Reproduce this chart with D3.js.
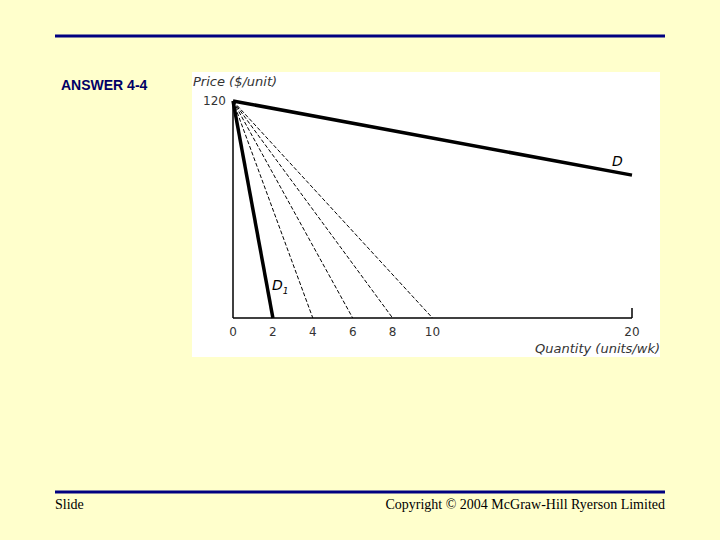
<!DOCTYPE html><html><head><script src="https://d3js.org/d3.v7.min.js"></script>
<style>body{margin:0;background:#FFFFCC}</style></head><body><script>
const demandLines=[{name:"D",q:20,p:79,thick:true},{name:"D1",q:2,p:0,thick:true}];
const dashedQ=[4,6,8,10];
const xTicks=[0,2,4,6,8,10,20];
const pMax=120;
const svg=d3.select("body").append("svg").attr("width",720).attr("height",540);
svg.append("rect").attr("width",720).attr("height",540).attr("fill","#FFFFCC");
svg.append("line").attr("x1",55).attr("x2",665).attr("y1",36).attr("y2",36).attr("stroke","#000080").attr("stroke-width",3);
svg.append("line").attr("x1",55).attr("x2",665).attr("y1",492).attr("y2",492).attr("stroke","#000080").attr("stroke-width",3);
svg.append("text").attr("x",61).attr("y",90).text("ANSWER 4-4").attr("font-family","Liberation Sans").attr("font-weight","bold").attr("font-size",14).attr("fill","#000066");
svg.append("text").attr("x",55).attr("y",509).text("Slide").attr("font-family","Liberation Serif").attr("font-size",14);
svg.append("text").attr("x",665).attr("y",509).attr("text-anchor","end").text("Copyright © 2004 McGraw-Hill Ryerson Limited").attr("font-family","Liberation Serif").attr("font-size",14);
svg.append("rect").attr("x",192).attr("y",72).attr("width",468).attr("height",285).attr("fill","#fff");
const x=d3.scaleLinear().domain([0,20]).range([233,632]);
const y=d3.scaleLinear().domain([0,120]).range([318,101]);
const g=svg.append("g");
const ff="DejaVu Sans";
g.append("line").attr("x1",x(0)).attr("x2",x(0)).attr("y1",y(0)).attr("y2",y(120)).attr("stroke","#000").attr("stroke-width",1.5);
g.append("line").attr("x1",x(0)).attr("x2",x(20)).attr("y1",y(0)).attr("y2",y(0)).attr("stroke","#000").attr("stroke-width",1.5);
g.append("line").attr("x1",x(20)).attr("x2",x(20)).attr("y1",y(0)).attr("y2",y(0)-10).attr("stroke","#000").attr("stroke-width",1.5);
xTicks.forEach(t=>g.append("text").attr("x",x(t)).attr("y",336).attr("text-anchor","middle").text(t).attr("font-family",ff).attr("font-size",12).attr("fill","#333"));
g.append("text").attr("x",226).attr("y",105).attr("text-anchor","end").text("120").attr("font-family",ff).attr("font-size",12).attr("fill","#333");
g.append("text").attr("x",193).attr("y",86).text("Price ($/unit)").attr("font-family",ff).attr("font-style","italic").attr("font-size",13).attr("fill","#333");
g.append("text").attr("x",660).attr("y",353).attr("text-anchor","end").text("Quantity (units/wk)").attr("font-family",ff).attr("font-style","italic").attr("font-size",13).attr("fill","#333");
dashedQ.forEach(q=>g.append("line").attr("x1",x(0)).attr("y1",y(pMax)).attr("x2",x(q)).attr("y2",y(0)).attr("stroke","#000").attr("stroke-width",1).attr("stroke-dasharray","4,2"));
demandLines.forEach(d=>g.append("line").attr("x1",x(0)).attr("y1",y(pMax)).attr("x2",x(d.q)).attr("y2",y(d.p)).attr("stroke","#000").attr("stroke-width",3.5));
g.append("text").attr("x",612).attr("y",166).text("D").attr("font-family",ff).attr("font-style","italic").attr("font-size",14);
const t=g.append("text").attr("x",272).attr("y",290).attr("font-family",ff).attr("font-style","italic").attr("font-size",14).text("D");
t.append("tspan").attr("font-size",9).attr("dy",4).text("1");
</script></body></html>
